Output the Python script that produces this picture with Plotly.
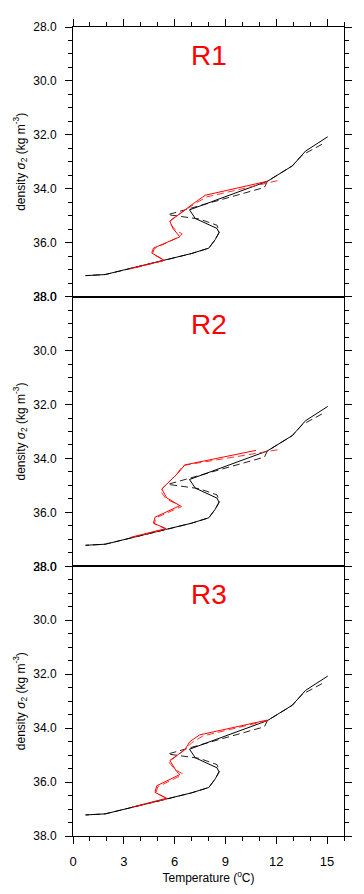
import plotly.graph_objects as go

# ---------------- data (temperature degC, density sigma2) ----------------
black_solid_T = [15.04, 13.73, 12.95, 12.36, 11.48, 6.88, 7.22, 8.50, 8.62, 8.40, 8.02, 7.00, 5.40, 3.38, 1.90, 0.74]
black_solid_D = [32.07, 32.60, 33.15, 33.39, 33.72, 34.78, 35.10, 35.47, 35.62, 35.88, 36.20, 36.40, 36.65, 36.97, 37.18, 37.22]

black_dash_T = [14.70, 13.53, 12.95, 12.36, 11.48, 11.30, 5.60, 7.45, 8.50, 8.65, 8.40, 8.02, 7.00, 5.40, 3.38, 1.90, 0.74]
black_dash_D = [32.35, 32.75, 33.15, 33.39, 33.72, 33.95, 34.96, 35.12, 35.35, 35.60, 35.88, 36.20, 36.40, 36.65, 36.97, 37.18, 37.22]

r1_solid_T = [11.48, 7.80, 7.10, 5.92, 5.72, 5.90, 6.31, 4.75, 4.65, 5.38, 4.30, 3.35]
r1_solid_D = [33.72, 34.24, 34.55, 35.08, 35.20, 35.47, 35.78, 36.20, 36.38, 36.65, 36.83, 36.97]
r1_dash_T = [12.07, 7.90, 7.20, 5.85, 5.68, 6.00, 6.45, 6.20, 4.80, 4.70, 5.38, 3.40]
r1_dash_D = [33.70, 34.30, 34.55, 35.12, 35.25, 35.50, 35.68, 35.80, 36.22, 36.40, 36.66, 36.97]

r2_solid_T = [10.80, 6.60, 6.21, 5.60, 5.24, 5.53, 6.31, 4.84, 4.75, 5.49, 4.30, 3.38]
r2_solid_D = [33.70, 34.24, 34.54, 34.93, 35.13, 35.46, 35.75, 36.18, 36.40, 36.60, 36.80, 36.93]
r2_dash_T = [12.07, 6.50, 6.15, 5.50, 5.15, 5.50, 6.41, 4.90, 4.80, 5.49, 3.40]
r2_dash_D = [33.68, 34.26, 34.56, 34.98, 35.20, 35.50, 35.78, 36.20, 36.42, 36.62, 36.93]

r3_solid_T = [11.48, 7.48, 6.90, 6.60, 5.72, 6.11, 6.31, 4.94, 4.84, 5.53, 4.30, 3.48]
r3_solid_D = [33.70, 34.25, 34.50, 34.80, 35.20, 35.60, 35.72, 36.14, 36.38, 36.60, 36.80, 36.93]
r3_dash_T = [11.48, 7.67, 7.00, 6.50, 5.65, 6.05, 6.45, 6.30, 5.00, 4.90, 5.55, 3.50]
r3_dash_D = [33.72, 34.29, 34.55, 34.85, 35.25, 35.55, 35.68, 35.78, 36.18, 36.40, 36.62, 36.93]

panel_titles = ["R1", "R2", "R3"]
x_tickvals = [0, 3, 6, 9, 12, 15]
y_tickvals = [28, 30, 32, 34, 36, 38]
y_ticktext = ["28.0", "30.0", "32.0", "34.0", "36.0", "38.0"]

red_sets = [
    (r1_solid_T, r1_solid_D, r1_dash_T, r1_dash_D),
    (r2_solid_T, r2_solid_D, r2_dash_T, r2_dash_D),
    (r3_solid_T, r3_solid_D, r3_dash_T, r3_dash_D),
]

FONT = "Liberation Sans, Arial, Helvetica, sans-serif"
fig = go.Figure()

domains = [[2/3, 1.0], [1/3, 2/3], [0.0, 1/3]]
for i in range(3):
    sfx = "" if i == 0 else str(i + 1)
    xa, ya = "x" + sfx, "y" + sfx
    rsT, rsD, rdT, rdD = red_sets[i]
    fig.add_trace(go.Scatter(x=black_dash_T, y=black_dash_D, mode="lines", xaxis=xa, yaxis=ya,
                             line=dict(color="#222222", width=1, dash="7px,4px"), showlegend=False))
    fig.add_trace(go.Scatter(x=black_solid_T, y=black_solid_D, mode="lines", xaxis=xa, yaxis=ya,
                             line=dict(color="black", width=1), showlegend=False))
    fig.add_trace(go.Scatter(x=rdT, y=rdD, mode="lines", xaxis=xa, yaxis=ya,
                             line=dict(color="#ff3030", width=1, dash="7px,4px"), showlegend=False))
    fig.add_trace(go.Scatter(x=rsT, y=rsD, mode="lines", xaxis=xa, yaxis=ya,
                             line=dict(color="red", width=1), showlegend=False))

    xaxis = dict(range=[0, 16], tickvals=x_tickvals, showline=True, linecolor="black", linewidth=1,
                 mirror=True, showgrid=False, zeroline=False, anchor=ya, ticklen=7, tickcolor="black",
                 tickfont=dict(family=FONT, size=13, color="black"))
    if i == 0:
        xaxis.update(side="top", ticks="outside", showticklabels=False,
                     minor=dict(dtick=1, tick0=0, ticks="outside", ticklen=4, tickcolor="black"))
    elif i == 1:
        xaxis.update(ticks="", showticklabels=False)
    else:
        xaxis.update(ticks="outside", showticklabels=True, ticklabelstandoff=6,
                     minor=dict(dtick=1, tick0=0, ticks="outside", ticklen=4, tickcolor="black"),
                     title=dict(text="Temperature (<sup>o</sup>C)", font=dict(family=FONT, size=12, color="black"),
                                standoff=5))
    yaxis = dict(range=[38, 28], domain=domains[i], tickvals=y_tickvals, ticktext=y_ticktext,
                 ticks="outside", ticklen=7, tickcolor="black", showline=True, linecolor="black",
                 linewidth=1, mirror="ticks", showgrid=False, zeroline=False, anchor=xa,
                 minor=dict(dtick=0.5, tick0=28, ticks="outside", ticklen=4, tickcolor="black"),
                 tickfont=dict(family=FONT, size=12, color="black"), ticklabelstandoff=6,
                 title=dict(text="density <i>σ</i><sub>2</sub> (kg m<sup>-3</sup>)",
                            font=dict(family=FONT, size=12, color="black"), standoff=5))
    fig.layout["xaxis" + sfx] = xaxis
    fig.layout["yaxis" + sfx] = yaxis
    fig.add_annotation(text=panel_titles[i], xref=xa + " domain", yref=ya + " domain", x=0.5, y=0.895,
                       showarrow=False, xanchor="center", yanchor="middle",
                       font=dict(family=FONT, size=28, color="red"))

# page body adds an 8px offset, so the figure is 8px smaller and margins shifted
fig.update_layout(width=356, height=886, autosize=False,
                  margin=dict(l=64, r=20, t=12, b=58),
                  plot_bgcolor="white", paper_bgcolor="white")

fig.write_html("out.html")
